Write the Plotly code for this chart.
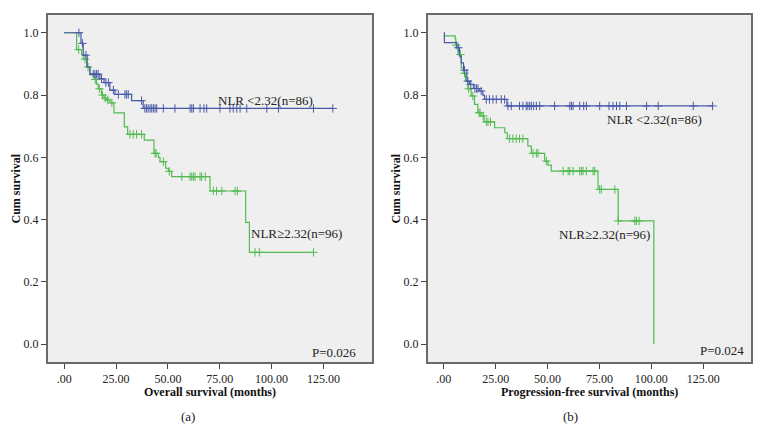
import numpy as np
import plotly.graph_objects as go

# ---------------- Panel (a): Overall survival ----------------
a_low_t = [0, 8.1, 9.2, 11.1, 12.4, 17.2, 19.2, 22.0, 24.5, 32.5, 38.1, 129.5]
a_low_s = [1.0, 0.966, 0.928, 0.89, 0.867, 0.852, 0.840, 0.816, 0.802, 0.782, 0.757, 0.757]
a_low_cens = [7.1, 8.8, 10.5, 14.0, 14.8, 15.6, 16.4, 18.0, 20.1, 21.3, 23.7, 26.1, 29.3, 30.1, 30.9, 37.3,
              38.9, 39.7, 40.5, 41.4, 42.2, 43.0, 43.8, 44.6, 47.8, 53.4, 60.7, 61.5, 62.3, 65.5, 67.4, 68.7,
              75.1, 79.9, 81.5, 83.2, 84.8, 88.0, 97.7, 103.3, 120.2, 129.5]

a_high_t = [0, 6.0, 8.4, 9.2, 10.8, 12.4, 14.8, 15.6, 16.4, 18.0, 19.2, 20.5, 22.0, 24.0, 29.0, 30.6,
            38.6, 43.3, 45.4, 46.2, 48.9, 50.2, 51.8, 70.3, 87.5, 89.3, 120.2]
a_high_s = [1.0, 0.946, 0.930, 0.915, 0.890, 0.865, 0.850, 0.835, 0.820, 0.800, 0.790, 0.784, 0.775, 0.743,
            0.698, 0.674, 0.655, 0.613, 0.600, 0.586, 0.565, 0.555, 0.538, 0.492, 0.391, 0.295, 0.295]
a_high_cens = [7.0, 10.0, 11.5, 15.0, 17.0, 18.5, 19.8, 21.0, 23.0, 31.7, 33.3, 34.9, 37.3, 43.8, 44.3, 47.8,
               50.7, 56.7, 60.7, 61.5, 62.3, 63.1, 65.5, 66.3, 68.0, 71.9, 73.5, 76.0, 82.4, 83.5,
               92.0, 94.1, 120.2]

# ---------------- Panel (b): Progression-free survival ----------------
b_low_t = [0, 0.3, 6.3, 7.6, 8.4, 9.5, 11.1, 12.4, 14.3, 17.2, 18.8, 19.6, 30.4, 129.5]
b_low_s = [1.0, 0.968, 0.952, 0.925, 0.903, 0.880, 0.845, 0.834, 0.821, 0.813, 0.800, 0.786, 0.765, 0.765]
b_low_cens = [7.0, 10.0, 11.6, 13.0, 15.0, 15.8, 16.5, 18.0, 20.5, 22.0, 23.7, 25.3, 27.7, 29.3,
              30.9, 32.5, 36.5, 38.1, 39.7, 40.5, 41.4, 42.2, 43.3, 44.6, 46.2, 53.4, 60.7, 61.5, 62.3,
              65.5, 67.4, 68.7, 75.1, 79.6, 81.5, 83.2, 84.8, 88.0, 97.7, 103.3, 120.2, 129.5]

b_high_t = [0, 5.5, 5.8, 6.9, 8.4, 9.5, 10.5, 11.6, 13.2, 14.8, 16.4, 18.0, 19.4, 24.5, 29.4, 30.6,
            40.5, 42.2, 48.6, 50.2, 51.8, 74.3, 84.0, 101.2]
b_high_s = [0.99, 0.98, 0.96, 0.93, 0.887, 0.870, 0.845, 0.820, 0.797, 0.770, 0.743, 0.733, 0.714, 0.695,
            0.679, 0.660, 0.636, 0.613, 0.588, 0.575, 0.556, 0.497, 0.396, 0.0]
b_high_cens = [6.0, 8.0, 10.0, 12.0, 14.0, 17.0, 17.5, 19.0, 20.5, 21.3, 22.5, 31.7, 33.3, 34.9, 36.5,
               38.1, 43.0, 44.6, 45.4, 49.4, 57.5, 59.9, 60.7, 62.3, 65.5, 66.3, 67.1, 68.7, 71.9, 72.7,
               75.1, 75.9, 82.4, 84.0, 92.0, 92.8, 94.1]

x_tickvals = [0, 25, 50, 75, 100, 125]
x_ticktext = [".00", "25.00", "50.00", "75.00", "100.00", "125.00"]
y_tickvals = [0.0, 0.2, 0.4, 0.6, 0.8, 1.0]
y_ticktext = ["0.0", "0.2", "0.4", "0.6", "0.8", "1.0"]

BLUE = "#4a5aa8"
GREEN = "#52bb52"
FONT = "Liberation Serif"


def step_at(times, surv, c):
    idx = np.searchsorted(np.array(times), c, side="right") - 1
    idx = np.clip(idx, 0, len(surv) - 1)
    return np.array(surv)[idx]


fig = go.Figure()


def add_curve(t, s, cens, color, xa, ya):
    fig.add_trace(go.Scatter(x=t, y=s, mode="lines", line=dict(color=color, width=1.2, shape="hv"),
                             xaxis=xa, yaxis=ya, showlegend=False, hoverinfo="skip"))
    fig.add_trace(go.Scatter(x=cens, y=step_at(t, s, cens), mode="markers",
                             marker=dict(symbol="cross-thin", size=6, line=dict(color=color, width=1)),
                             xaxis=xa, yaxis=ya, showlegend=False, hoverinfo="skip"))


add_curve(a_high_t, a_high_s, a_high_cens, GREEN, "x", "y")
add_curve(a_low_t, a_low_s, a_low_cens, BLUE, "x", "y")
add_curve(b_high_t, b_high_s, b_high_cens, GREEN, "x2", "y2")
add_curve(b_low_t, b_low_s, b_low_cens, BLUE, "x2", "y2")

W, H = 764, 443
ydom = [1 - 362 / H, 1 - 15 / H]
axis_common = dict(showgrid=False, zeroline=False, showline=True, linecolor="#6a6a6a", linewidth=2,
                   mirror=True, ticks="outside", ticklen=5, tickcolor="#444", tickwidth=1,
                   automargin=False, ticklabeloverflow="allow",
                   tickfont=dict(family=FONT, size=12, color="#222"))

fig.update_layout(
    width=W, height=H, margin=dict(l=0, r=0, t=0, b=0, autoexpand=False),
    paper_bgcolor="white", plot_bgcolor="#efefef",
    xaxis=dict(domain=[48 / W, 372 / W], range=[-7.8, 148.4], tickvals=x_tickvals, ticktext=x_ticktext,
               anchor="y", **axis_common),
    yaxis=dict(domain=ydom, range=[-0.057, 1.057], tickvals=y_tickvals, ticktext=y_ticktext,
               anchor="x", **axis_common),
    xaxis2=dict(domain=[428 / W, 751 / W], range=[-7.6, 148.0], tickvals=x_tickvals, ticktext=x_ticktext,
                anchor="y2", **axis_common),
    yaxis2=dict(domain=ydom, range=[-0.057, 1.057], tickvals=y_tickvals, ticktext=y_ticktext,
                anchor="x2", **axis_common),
)

txt = dict(family=FONT, size=13, color="#222")
bold = dict(family=FONT, size=12, color="#111")
P = dict(xref="paper", yref="paper", showarrow=False, xanchor="center", yanchor="middle")
ann = [
    dict(x=97.2, y=0.784, xref="x", yref="y", text="NLR <2.32(n=86)", showarrow=False, font=txt),
    dict(x=112.2, y=0.356, xref="x", yref="y", text="NLR≥2.32(n=96)", showarrow=False, font=txt),
    dict(x=130.3, y=-0.026, xref="x", yref="y", text="P=0.026", showarrow=False, font=txt),
    dict(x=101.7, y=0.72, xref="x2", yref="y2", text="NLR <2.32(n=86)", showarrow=False, font=txt),
    dict(x=77.6, y=0.351, xref="x2", yref="y2", text="NLR≥2.32(n=96)", showarrow=False, font=txt),
    dict(x=134.2, y=-0.019, xref="x2", yref="y2", text="P=0.024", showarrow=False, font=txt),
    dict(x=210 / W, y=1 - 391.7 / H, text="<b>Overall survival (months)</b>", font=bold, **P),
    dict(x=589.5 / W, y=1 - 391.7 / H, text="<b>Progression-free survival (months)</b>", font=bold, **P),
    dict(x=15 / W, y=1 - 188.5 / H, text="<b>Cum survival</b>", font=bold, textangle=-90, **P),
    dict(x=395 / W, y=1 - 188.5 / H, text="<b>Cum survival</b>", font=bold, textangle=-90, **P),
    dict(x=188.3 / W, y=1 - 416.7 / H, text="(a)", font=txt, **P),
    dict(x=570.7 / W, y=1 - 416.7 / H, text="(b)", font=txt, **P),
]
fig.update_layout(annotations=ann)

fig.write_html("out.html", config={"displayModeBar": False},
               post_script="document.body.style.margin='0';document.body.style.overflow='hidden';")
